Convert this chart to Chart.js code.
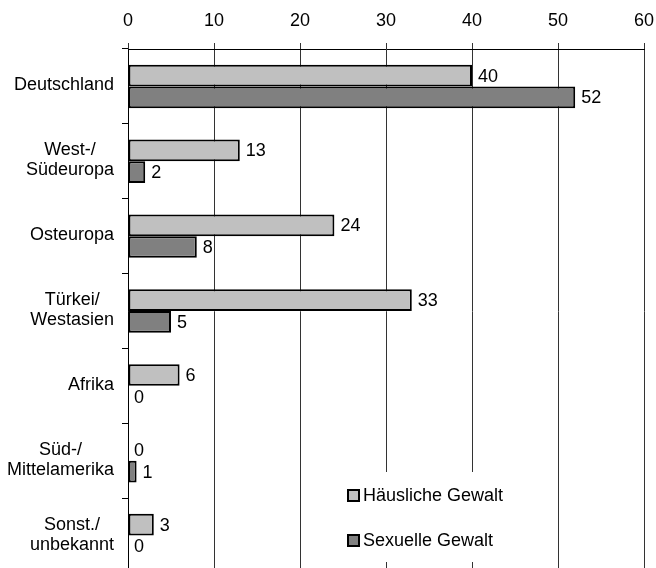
<!DOCTYPE html>
<html>
<head>
<meta charset="utf-8">
<script src="https://cdn.jsdelivr.net/npm/chart.js@4.4.0/dist/chart.umd.min.js"></script>
<style>
  html, body { margin: 0; padding: 0; background: #fff; overflow: hidden; }
  #wrap { width: 656px; height: 573px; position: relative; }
</style>
</head>
<body>
<div id="wrap"><canvas id="chart"></canvas></div>
<script>
// Data
const categories = [
  ["Deutschland"],
  ["West-/", "Südeuropa"],
  ["Osteuropa"],
  ["Türkei/", "Westasien"],
  ["Afrika"],
  ["Süd-/", "Mittelamerika"],
  ["Sonst./", "unbekannt"],
];
const haeuslicheGewalt = [40, 13, 24, 33, 6, 0, 3];
const sexuelleGewalt = [52, 2, 8, 5, 0, 1, 0];
const seriesNames = ["Häusliche Gewalt", "Sexuelle Gewalt"];
const seriesColors = ["#c0c0c0", "#808080"];
const xTicks = [0, 10, 20, 30, 40, 50, 60];

const FONT = '"Liberation Sans", Arial, sans-serif';
const FONT_SIZE = 18;
Chart.defaults.font.family = FONT;
Chart.defaults.font.size = FONT_SIZE;
Chart.defaults.color = "#000";

// Value labels right of each bar
const valueLabels = {
  id: "valueLabels",
  afterDatasetsDraw(chart) {
    const ctx = chart.ctx;
    ctx.save();
    ctx.font = `${FONT_SIZE}px ${FONT}`;
    ctx.fillStyle = "#000";
    ctx.textAlign = "left";
    ctx.textBaseline = "middle";
    chart.data.datasets.forEach((ds, di) => {
      chart.getDatasetMeta(di).data.forEach((bar, i) => {
        ctx.fillText(String(ds.data[i]), bar.x + 6, bar.y + 1);
      });
    });
    ctx.restore();
  },
};

// Category labels: block right-aligned, lines centred inside it
const categoryLabels = {
  id: "categoryLabels",
  afterDraw(chart) {
    const ctx = chart.ctx;
    const yScale = chart.scales.y;
    const lineH = 20;
    const right = 114;
    ctx.save();
    ctx.font = `${FONT_SIZE}px ${FONT}`;
    ctx.fillStyle = "#000";
    ctx.textAlign = "center";
    ctx.textBaseline = "middle";
    categories.forEach((lines, i) => {
      const y = yScale.getPixelForValue(i);
      const w = Math.max(...lines.map((l) => ctx.measureText(l).width));
      const cx = right - w / 2;
      lines.forEach((line, j) => {
        ctx.fillText(line, cx, y + (j - (lines.length - 1) / 2) * lineH - 1);
      });
    });
    ctx.restore();
  },
};

// Legend inside the plot, bottom right, on a white box
const innerLegend = {
  id: "innerLegend",
  afterDraw(chart) {
    const ctx = chart.ctx;
    ctx.save();
    ctx.fillStyle = "#fff";
    ctx.fillRect(337, 472, 213, 90);
    ctx.font = `${FONT_SIZE}px ${FONT}`;
    ctx.textAlign = "left";
    ctx.textBaseline = "middle";
    seriesNames.forEach((name, i) => {
      const cy = 496 + i * 45;
      ctx.fillStyle = seriesColors[i];
      ctx.fillRect(348, cy - 6, 11, 11);
      ctx.strokeStyle = "#000";
      ctx.lineWidth = 2;
      ctx.strokeRect(348, cy - 6, 11, 11);
      ctx.fillStyle = "#000";
      ctx.fillText(name, 363, cy);
    });
    ctx.restore();
  },
};

const barStyle = (color) => ({
  backgroundColor: color,
  borderColor: "#000",
  borderWidth: (c) => (c.raw === 0 ? 0 : 2),
  borderSkipped: false,
  categoryPercentage: 0.58,
  barPercentage: 1,
});

new Chart(document.getElementById("chart"), {
  type: "bar",
  data: {
    labels: categories,
    datasets: [
      { label: seriesNames[0], data: haeuslicheGewalt, ...barStyle(seriesColors[0]) },
      { label: seriesNames[1], data: sexuelleGewalt, ...barStyle(seriesColors[1]) },
    ],
  },
  options: {
    indexAxis: "y",
    responsive: true,
    maintainAspectRatio: false,
    animation: false,
    devicePixelRatio: 1,
    layout: { padding: { top: 0, right: 0, bottom: 0, left: 0 } },
    scales: {
      x: {
        position: "top",
        min: xTicks[0],
        max: xTicks[xTicks.length - 1],
        afterBuildTicks: (s) => { s.ticks = xTicks.map((v) => ({ value: v })); },
        afterFit: (s) => { s.height = 49; s.paddingRight = 12; },
        ticks: { padding: 11 },
        grid: { color: "#333", lineWidth: 1, tickLength: 6, drawTicks: true },
        border: { color: "#000", width: 1 },
      },
      y: {
        afterFit: (s) => { s.width = 128; },
        ticks: { display: false },
        grid: { drawOnChartArea: false, color: "#000", tickLength: 6, offset: true },
        border: { color: "#000", width: 1 },
      },
    },
    plugins: {
      legend: { display: false },
      tooltip: { enabled: false },
    },
  },
  plugins: [valueLabels, categoryLabels, innerLegend],
});
</script>
</body>
</html>
